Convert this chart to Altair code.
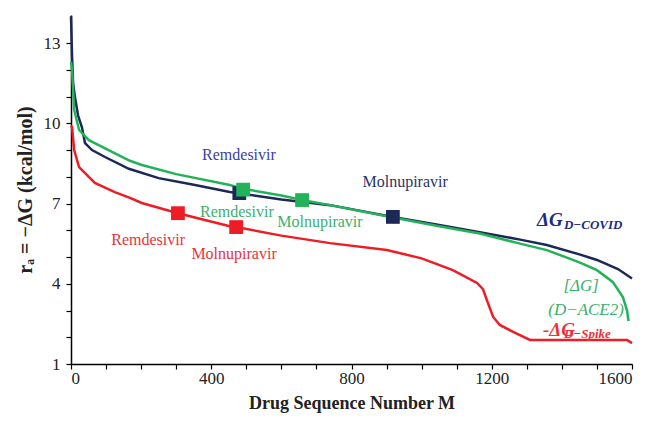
import altair as alt
import pandas as pd

# ---- curve data ----
covid_x = [0, 3, 6, 11, 20, 31, 40, 60, 97, 165, 250, 350, 453, 480, 600, 739, 918, 1050, 1166, 1281, 1357, 1450, 1500, 1560, 1600]
covid_y = [14.0, 12.5, 11.5, 11.0, 10.3, 9.86, 9.26, 9.0, 8.74, 8.3, 7.95, 7.7, 7.43, 7.38, 7.15, 6.94, 6.5, 6.2, 5.93, 5.65, 5.45, 5.1, 4.89, 4.55, 4.2]

ace2_x = [0, 3, 9, 23, 51, 117, 168, 202, 300, 453, 491, 600, 659, 739, 918, 1050, 1166, 1281, 1357, 1450, 1500, 1545, 1574, 1586, 1590]
ace2_y = [12.3, 12.0, 10.5, 9.75, 9.37, 8.93, 8.6, 8.44, 8.1, 7.69, 7.55, 7.3, 7.13, 6.94, 6.48, 6.15, 5.88, 5.5, 5.26, 4.8, 4.51, 4.07, 3.5, 3.0, 2.6]

spike_x = [0, 3, 9, 23, 68, 125, 168, 202, 305, 453, 471, 600, 739, 901, 1000, 1089, 1158, 1175, 1186, 1204, 1223, 1261, 1309, 1586, 1600]
spike_y = [9.9, 9.86, 9.0, 8.36, 7.77, 7.43, 7.21, 7.02, 6.64, 6.15, 6.12, 5.8, 5.52, 5.26, 4.95, 4.51, 4.03, 3.8, 3.39, 2.76, 2.46, 2.2, 1.9, 1.9, 1.78]

series_names = ["COVID", "ACE2", "Spike"]
series_colors = ["#1c2857", "#22b35a", "#ee1c24"]

# ---- drug markers ----
marker_series = ["COVID", "COVID", "ACE2", "ACE2", "Spike", "Spike"]
marker_x = [480, 918, 491, 659, 305, 471]
marker_y = [7.39, 6.5, 7.52, 7.13, 6.64, 6.12]

# ---- drug labels ----
label_text = ["Remdesivir", "Molnupiravir", "Remdesivir", "Molnupiravir", "Remdesivir", "Molnupiravir"]
label_x = [479, 953, 473, 710, 220, 465]
label_y = [8.81, 7.80, 6.68, 6.31, 5.64, 5.11]
label_color = ["#3b3f99", "#2c3566", "#3cb06b", "#3cb06b", "#e8333a", "#e8333a"]

# ---- curve name labels ----
main_text = ["ΔG", "-ΔG"]
main_x = [1329, 1346]
main_y = [6.38, 2.27]
main_color = ["#1c2a8a", "#e8333a"]
sub_text = ["D−COVID", "D−Spike"]
sub_x = [1406, 1406]
sub_y = [6.2, 2.11]
ace_text = ["[ΔG]", "(D−ACE2)"]
ace_x = [1455, 1469]
ace_y = [3.92, 3.02]

# ---- axis tick values ----
x_ticks = list(range(0, 1700, 100))
y_ticks = list(range(1, 14))

rows = []
for name, xs, ys in [("COVID", covid_x, covid_y), ("ACE2", ace2_x, ace2_y), ("Spike", spike_x, spike_y)]:
    for i, (a, b) in enumerate(zip(xs, ys)):
        rows.append({"series": name, "x": a, "y": b, "order": i})
lines_df = pd.DataFrame(rows)
markers_df = pd.DataFrame({"series": marker_series, "x": marker_x, "y": marker_y})
labels_df = pd.DataFrame({"text": label_text, "x": label_x, "y": label_y, "color": label_color})
main_df = pd.DataFrame({"text": main_text, "x": main_x, "y": main_y, "color": main_color})
sub_df = pd.DataFrame({"text": sub_text, "x": sub_x, "y": sub_y, "color": main_color})
ace_df = pd.DataFrame({"text": ace_text, "x": ace_x, "y": ace_y})

xscale = alt.Scale(domain=[0, 1600], nice=False, zero=False)
yscale = alt.Scale(domain=[1, 14.05], nice=False, zero=False)
cscale = alt.Scale(domain=series_names, range=series_colors)

xaxis = alt.Axis(
    title="Drug Sequence Number M",
    values=x_ticks,
    labelExpr="datum.value % 400 == 0 ? datum.label : ''",
    labelOverlap=False,
    grid=False, tickSize=5, tickColor="black", domainColor="black", domainWidth=1.5, tickWidth=1.2,
    labelFont="Liberation Serif", labelFontSize=17, labelColor="#222",
    titleFont="Liberation Serif", titleFontSize=18, titleFontWeight="bold", titleColor="#222",
    titlePadding=8, labelPadding=1, format="d",
)
yaxis = alt.Axis(
    title="rₐ = −ΔG (kcal/mol)",
    values=y_ticks,
    labelExpr="(datum.value - 1) % 3 == 0 ? datum.label : ''",
    labelOverlap=False,
    grid=False, tickSize=5, tickColor="black", domainColor="black", domainWidth=1.5, tickWidth=1.2,
    labelFont="Liberation Serif", labelFontSize=17, labelColor="#222",
    titleFont="Liberation Serif", titleFontSize=20, titleFontWeight="bold", titleColor="#222",
    titlePadding=8, labelPadding=6,
)

X = alt.X("x:Q", scale=xscale, axis=xaxis)
Y = alt.Y("y:Q", scale=yscale, axis=yaxis)

lines = alt.Chart(lines_df).mark_line(strokeWidth=2.5).encode(
    x=X, y=Y,
    color=alt.Color("series:N", scale=cscale, legend=None),
    detail="series:N",
    order="order:Q",
)

markers = alt.Chart(markers_df).mark_point(shape="square", filled=True, size=190, opacity=1).encode(
    x=X, y=Y,
    color=alt.Color("series:N", scale=cscale, legend=None),
)

labels = alt.Chart(labels_df).mark_text(font="Liberation Serif", fontSize=16, align="center", baseline="middle").encode(
    x=X, y=Y,
    text="text:N",
    color=alt.Color("color:N", scale=None),
)

main_lbl = alt.Chart(main_df).mark_text(font="Liberation Serif", fontSize=19, fontWeight="bold", fontStyle="italic", align="left", baseline="middle").encode(
    x=X, y=Y,
    text="text:N",
    color=alt.Color("color:N", scale=None),
)

sub_lbl = alt.Chart(sub_df).mark_text(font="Liberation Serif", fontSize=13, fontWeight="bold", fontStyle="italic", align="left", baseline="middle").encode(
    x=X, y=Y,
    text="text:N",
    color=alt.Color("color:N", scale=None),
)

ace_lbl = alt.Chart(ace_df).mark_text(font="Liberation Serif", fontSize=17, fontStyle="italic", align="center", baseline="middle", color="#3cb06b").encode(
    x=X, y=Y,
    text="text:N",
)

chart = alt.layer(lines, markers, labels, main_lbl, sub_lbl, ace_lbl).properties(
    width=561, height=349,
    autosize=alt.AutoSizeParams(type="none"),
    padding={"left": 63, "top": 7, "right": 10, "bottom": 52},
    background="white",
).configure_view(stroke=None).configure_axis(labelOverlap=False)

chart.save("out.html", embed_options={"renderer": "svg", "actions": False})
